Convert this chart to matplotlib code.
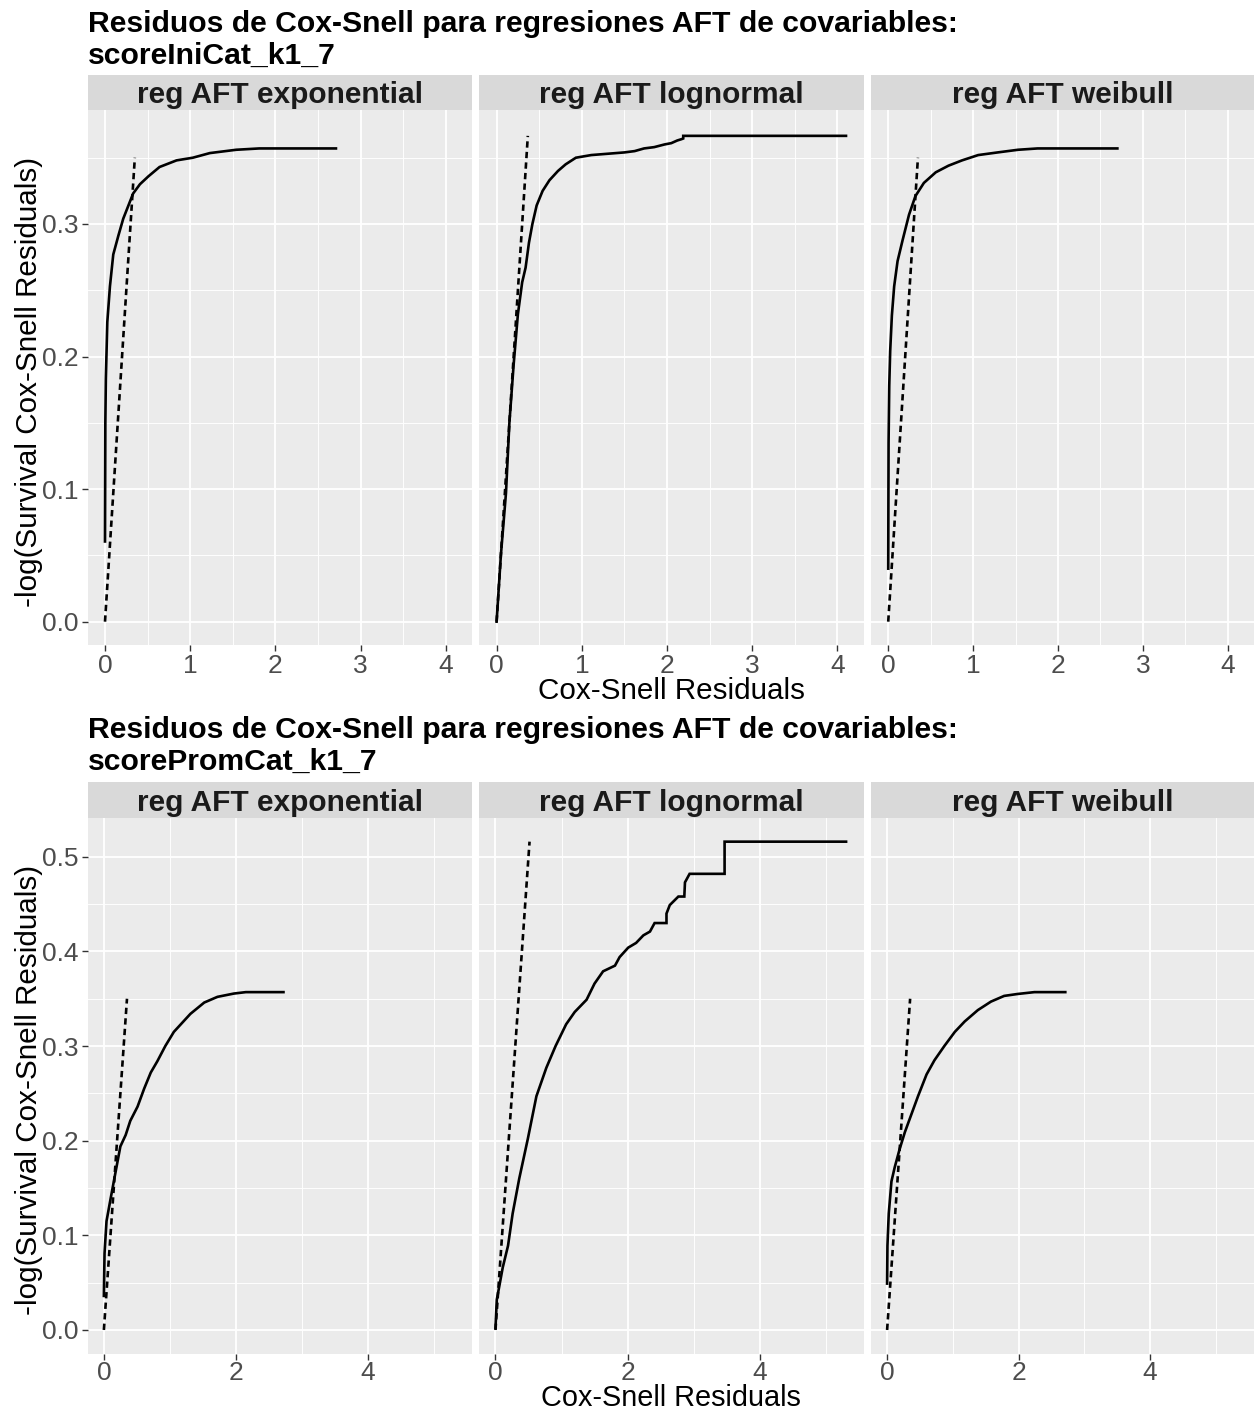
import matplotlib.pyplot as plt
from matplotlib.patches import Rectangle
from matplotlib.ticker import MultipleLocator

plt.rcParams['font.family'] = ['Liberation Sans', 'DejaVu Sans']

W, H = 1254, 1412

models = ["reg AFT exponential", "reg AFT lognormal", "reg AFT weibull"]
title_1 = "Residuos de Cox-Snell para regresiones AFT de covariables:"
covariates = ["scoreIniCat_k1_7", "scorePromCat_k1_7"]

# scoreIniCat_k1_7 : cumulative hazard of the Cox-Snell residuals
ini_exp_x = [0, 0.004, 0.01, 0.027, 0.058, 0.097, 0.156, 0.214, 0.33, 0.41, 0.51, 0.64,
             0.84, 1.03, 1.23, 1.54, 1.81, 2.71]
ini_exp_y = [0.0605, 0.15, 0.183, 0.226, 0.253, 0.277, 0.291, 0.304, 0.323, 0.330, 0.336,
             0.343, 0.348, 0.350, 0.3535, 0.356, 0.357, 0.357]
ini_lnorm_x = [0, 0.05, 0.11, 0.15, 0.20, 0.25, 0.30, 0.34, 0.38, 0.42, 0.47, 0.54, 0.62,
               0.72, 0.81, 0.93, 1.11, 1.50, 1.62, 1.73, 1.85, 1.97, 2.05, 2.12, 2.17,
               2.19, 2.19, 4.10]
ini_lnorm_y = [0, 0.05, 0.097, 0.15, 0.194, 0.232, 0.256, 0.267, 0.286, 0.300, 0.314,
               0.325, 0.333, 0.340, 0.345, 0.350, 0.352, 0.354, 0.355, 0.357, 0.358,
               0.360, 0.361, 0.363, 0.364, 0.3645, 0.3665, 0.3665]
ini_weib_x = [0, 0.002, 0.004, 0.012, 0.023, 0.043, 0.07, 0.11, 0.17, 0.245, 0.32, 0.42,
              0.56, 0.71, 0.87, 1.06, 1.29, 1.53, 1.76, 2.70]
ini_weib_y = [0.040, 0.09, 0.135, 0.178, 0.204, 0.231, 0.253, 0.272, 0.288, 0.307, 0.321,
              0.331, 0.339, 0.344, 0.348, 0.352, 0.354, 0.356, 0.357, 0.357]

# scorePromCat_k1_7
prom_exp_x = [0, 0.01, 0.04, 0.10, 0.18, 0.25, 0.33, 0.40, 0.51, 0.61, 0.71, 0.81, 0.93,
              1.06, 1.31, 1.52, 1.72, 1.97, 2.15, 2.72]
prom_exp_y = [0.036, 0.081, 0.115, 0.138, 0.168, 0.194, 0.206, 0.221, 0.236, 0.255, 0.272,
              0.284, 0.300, 0.315, 0.334, 0.346, 0.352, 0.3555, 0.357, 0.357]
prom_lnorm_x = [0, 0.02, 0.06, 0.11, 0.19, 0.26, 0.36, 0.49, 0.62, 0.77, 0.91, 1.07, 1.20,
                1.38, 1.50, 1.63, 1.81, 1.88, 2.01, 2.13, 2.24, 2.34, 2.41, 2.59, 2.59,
                2.64, 2.77, 2.86, 2.87, 2.94, 3.47, 3.47, 5.31]
prom_lnorm_y = [0.002, 0.032, 0.047, 0.066, 0.089, 0.123, 0.160, 0.202, 0.247, 0.277,
                0.300, 0.323, 0.336, 0.349, 0.366, 0.379, 0.385, 0.394, 0.404, 0.409,
                0.417, 0.421, 0.430, 0.430, 0.440, 0.449, 0.458, 0.458, 0.473, 0.482,
                0.482, 0.516, 0.516]
prom_weib_x = [0, 0.005, 0.025, 0.066, 0.116, 0.19, 0.27, 0.37, 0.47, 0.60, 0.72, 0.87,
               1.03, 1.18, 1.38, 1.58, 1.78, 1.98, 2.24, 2.71]
prom_weib_y = [0.049, 0.089, 0.123, 0.157, 0.172, 0.191, 0.209, 0.228, 0.247, 0.270,
               0.285, 0.300, 0.315, 0.326, 0.338, 0.347, 0.353, 0.355, 0.357, 0.357]

# end of the y = x reference line in each panel
ini_ref = [0.35, 0.3665, 0.35]
prom_ref = [0.35, 0.516, 0.35]

rows = [
    dict(cov=covariates[0], curves=[(ini_exp_x, ini_exp_y), (ini_lnorm_x, ini_lnorm_y),
                                    (ini_weib_x, ini_weib_y)], ref=ini_ref,
         top=110, bottom=645, xlim=(-0.203, 4.31), ylim=(-0.0176, 0.386),
         xmaj=1, xmin=0.5, title_y=(31.7, 64), strip_top=74.5,
         xlab_off=54, xlab_size=21.3, xpad=2.5),
    dict(cov=covariates[1], curves=[(prom_exp_x, prom_exp_y), (prom_lnorm_x, prom_lnorm_y),
                                    (prom_weib_x, prom_weib_y)], ref=prom_ref,
         top=818, bottom=1354, xlim=(-0.245, 5.58), ylim=(-0.0254, 0.541),
         xmaj=2, xmin=1, title_y=(738.3, 770), strip_top=782,
         xlab_off=51.5, xlab_size=20.8, xpad=1),
]

lefts = [87.7, 479.3, 871]
width = 384.6

fig = plt.figure(figsize=(W / 100, H / 100), dpi=100)

for row in rows:
    for i, left in enumerate(lefts):
        w = min(width, W - left)
        ax = fig.add_axes([left / W, 1 - row['bottom'] / H, w / W,
                           (row['bottom'] - row['top']) / H])
        ax.set_facecolor('#EBEBEB')
        for s in ax.spines.values():
            s.set_visible(False)
        ax.set_xlim(*row['xlim'])
        ax.set_ylim(*row['ylim'])
        ax.xaxis.set_major_locator(MultipleLocator(row['xmaj']))
        ax.xaxis.set_minor_locator(MultipleLocator(row['xmin']))
        ax.yaxis.set_major_locator(MultipleLocator(0.1))
        ax.yaxis.set_minor_locator(MultipleLocator(0.05))
        ax.grid(which='major', color='white', lw=1.3)
        ax.grid(which='minor', color='white', lw=0.65)
        ax.set_axisbelow(True)
        ax.tick_params(which='major', length=4, width=1, color='#333333',
                       labelsize=19, labelcolor='#4D4D4D', pad=2.5)
        ax.tick_params(axis='x', which='major', pad=row['xpad'])
        ax.tick_params(which='minor', length=0)
        if i == 0:
            ax.yaxis.set_major_formatter(lambda v, p: f"{v:.1f}")
        else:
            ax.tick_params(axis='y', which='major', length=0, labelleft=False)
        ax.xaxis.set_major_formatter(lambda v, p: f"{v:g}")

        cx, cy = row['curves'][i]
        ax.plot(cx, cy, color='black', lw=1.9, solid_joinstyle='miter')
        m = row['ref'][i]
        ax.plot([0, m], [0, m], color='black', lw=1.9, dashes=(2.4, 1.6))

        # facet strip
        fig.patches.append(Rectangle((left / W, 1 - row['top'] / H), w / W,
                                     (row['top'] - row['strip_top']) / H,
                                     transform=fig.transFigure, facecolor='#D9D9D9',
                                     edgecolor='none'))
        fig.text((left + w / 2) / W, 1 - (row['top'] + row['strip_top']) / 2 / H,
                 models[i], ha='center', va='center_baseline', fontsize=21.5,
                 fontweight='bold', color='#1A1A1A')

    fig.text(88 / W, 1 - row['title_y'][0] / H, title_1, ha='left', va='baseline',
             fontsize=21.7, fontweight='bold')
    fig.text(88 / W, 1 - row['title_y'][1] / H, row['cov'], ha='left', va='baseline',
             fontsize=21.7, fontweight='bold')
    fig.text(671 / W, 1 - (row['bottom'] + row['xlab_off']) / H, "Cox-Snell Residuals",
             ha='center', va='baseline', fontsize=row['xlab_size'])
    fig.text(29 / W, 1 - ((row['top'] + row['bottom']) / 2 + 4) / H,
             "-log(Survival Cox-Snell Residuals)", rotation=90, ha='center',
             va='center', fontsize=21.3)

fig.savefig('out.png', dpi=100, facecolor='white')
